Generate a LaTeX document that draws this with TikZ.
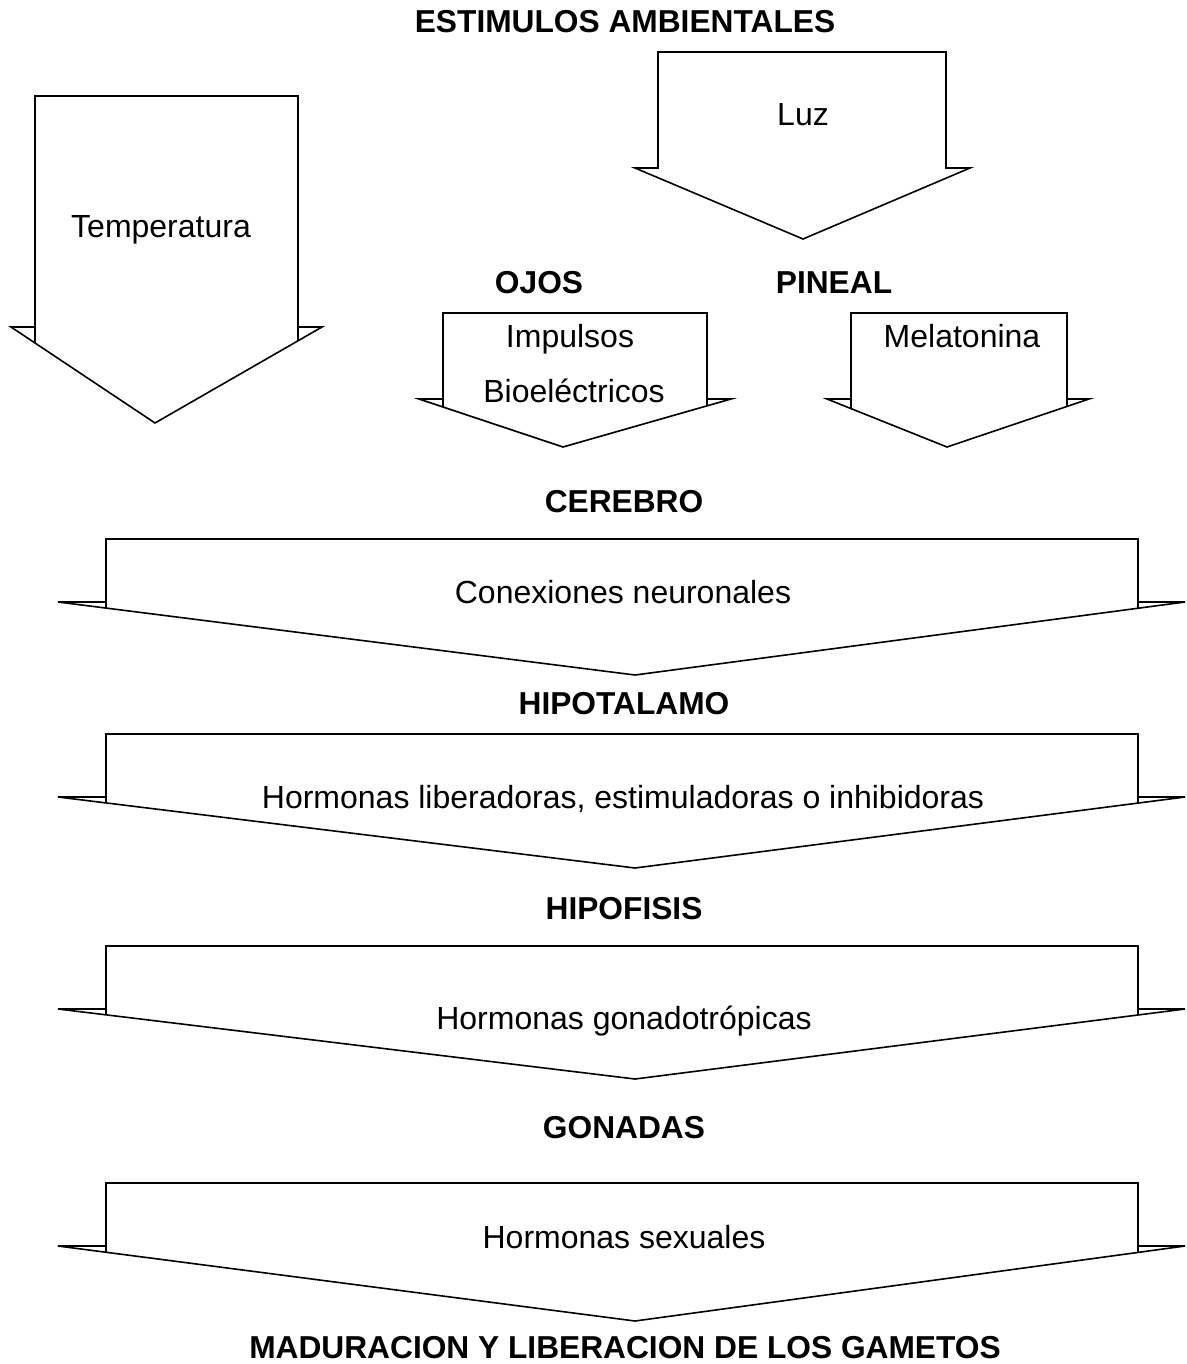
\documentclass[tikz,border=0pt]{standalone}
\usepackage{fontspec}
\setmainfont{Liberation Sans}
\usetikzlibrary{calc}
\tikzset{
  arr/.style={draw=black, line width=1.6pt, line join=miter},
  lbl/.style={anchor=base, inner sep=0pt, font=\fontsize{32}{36}\selectfont},
  hdr/.style={lbl, font=\fontsize{31.7}{36}\selectfont\bfseries},
}
% #1 body left x, #2 body right x, #3 top y, #4 shoulder y,
% #5 shoulder left x, #6 shoulder right x, #7 tip x, #8 tip y
\newcommand\blockarrow[8]{%
  \draw[arr] (#5,#4) -- (#1,#4) -- (#1,#3) -- (#2,#3) -- (#2,#4) -- (#6,#4) -- (#7,#8) -- cycle;
}
\newcommand\blockticks[8]{%
  \draw[arr] (#1,#4) -- ($(#5,#4)!{(#1-#5)/(#7-#5)}!(#7,#8)$);
  \draw[arr] (#2,#4) -- ($(#6,#4)!{(#6-#2)/(#6-#7)}!(#7,#8)$);
}
\begin{document}
\begin{tikzpicture}[x=1pt,y=-1pt]
\useasboundingbox (0,0) rectangle (1186,1364);
% arrows
\blockarrow{35}{298}{96}{327}{11}{322}{155}{423}
\blockticks{35}{298}{96}{327}{11}{322}{155}{423}
\blockarrow{658}{946}{52}{168}{635}{970}{803}{239}
\blockarrow{443}{707}{313}{399}{419}{731}{563}{447}
\blockticks{443}{707}{313}{399}{419}{731}{563}{447}
\blockarrow{851}{1067}{313}{399}{827}{1089}{947}{447}
\blockticks{851}{1067}{313}{399}{827}{1089}{947}{447}
\blockarrow{106}{1138}{539}{602}{58}{1185}{635}{675}
\blockticks{106}{1138}{539}{602}{58}{1185}{635}{675}
\blockarrow{106}{1138}{734}{797}{58}{1185}{635}{868}
\blockticks{106}{1138}{734}{797}{58}{1185}{635}{868}
\blockarrow{106}{1138}{946}{1009}{58}{1185}{635}{1079}
\blockticks{106}{1138}{946}{1009}{58}{1185}{635}{1079}
\blockarrow{106}{1138}{1183}{1246}{58}{1185}{635}{1321}
\blockticks{106}{1138}{1183}{1246}{58}{1185}{635}{1321}
% labels
\node[hdr] (title) at (625,33) {ESTIMULOS AMBIENTALES};
\node[lbl] (luz) at (803,126) {Luz};
\node[lbl] (temp) at (161,237) {Temperatura};
\node[hdr] (ojos) at (539,293) {OJOS};
\node[hdr] (pineal) at (834,293) {PINEAL};
\node[lbl] (imp) at (570,347) {Impulsos};
\node[lbl] (bio) at (574,402) {Bioeléctricos};
\node[lbl] (mel) at (962,347) {Melatonina};
\node[hdr] (cerebro) at (624,512) {CEREBRO};
\node[lbl] (conex) at (623,603) {Conexiones neuronales};
\node[hdr] (hipot) at (624,714) {HIPOTALAMO};
\node[lbl] (horlib) at (623,808) {Hormonas liberadoras, estimuladoras o inhibidoras};
\node[hdr] (hipof) at (624,919) {HIPOFISIS};
\node[lbl] (gonadot) at (624,1029) {Hormonas gonadotrópicas};
\node[hdr] (gonadas) at (624,1138) {GONADAS};
\node[lbl] (sex) at (624,1248) {Hormonas sexuales};
\node[hdr] (madur) at (625,1358) {MADURACION Y LIBERACION DE LOS GAMETOS};
\end{tikzpicture}
\end{document}
